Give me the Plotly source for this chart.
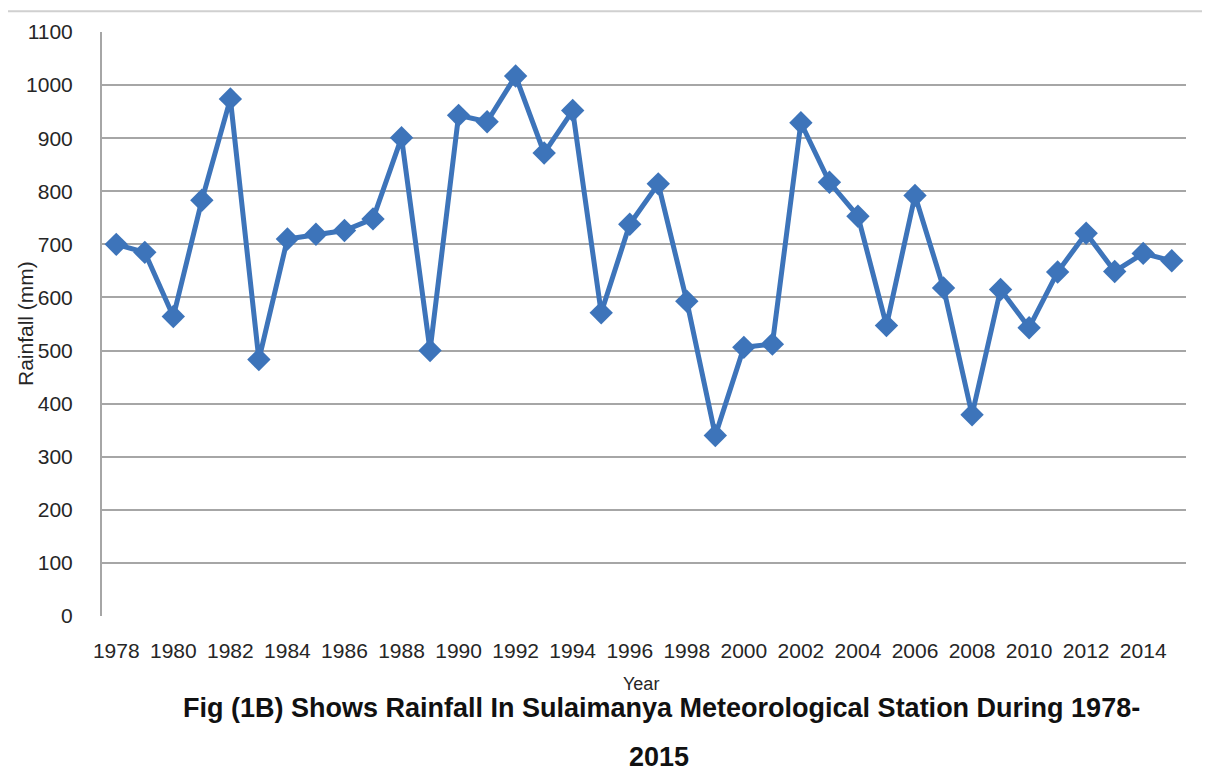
import plotly.graph_objects as go

years = list(range(1978, 2016))
rainfall = [700, 685, 564, 783, 974, 483, 710, 719, 726, 748, 901,
            500, 943, 931, 1017, 872, 952, 571, 738, 814, 593, 340,
            506, 512, 929, 817, 753, 547, 792, 618, 379, 615, 543,
            648, 721, 649, 683, 669]
x_ticks = list(range(1978, 2015, 2))
y_ticks = list(range(0, 1101, 100))

FONT = "Liberation Sans"
LINE_COLOR = "#3D74BA"
TEXT = "#262626"

fig = go.Figure()
fig.add_trace(go.Scatter(
    x=years, y=rainfall, mode="lines+markers",
    line=dict(color=LINE_COLOR, width=5),
    marker=dict(symbol="diamond", size=18, color=LINE_COLOR),
    showlegend=False,
))

fig.update_layout(
    width=1210, height=782,
    margin=dict(l=94, r=32, t=19, b=174),
    paper_bgcolor="white", plot_bgcolor="white",
    font=dict(family=FONT, color=TEXT, size=21),
    xaxis=dict(
        range=[1977.5, 2015.5], tickvals=x_ticks,
        ticktext=[str(v) for v in x_ticks],
        showgrid=False, zeroline=False, showline=False,
        ticks="", ticklabelstandoff=20,
        tickfont=dict(size=21, family=FONT, color=TEXT),
    ),
    yaxis=dict(
        range=[0, 1100], tickvals=y_ticks,
        showgrid=True, gridcolor="#A6A6A6", gridwidth=2,
        zeroline=False, showline=True, linecolor="#A6A6A6", linewidth=2,
        ticks="", ticklabelstandoff=23,
        tickfont=dict(size=21, family=FONT, color=TEXT),
    ),
    annotations=[
        dict(text="Rainfall (mm)", xref="paper", yref="paper",
             x=-0.071, y=0.5, textangle=-90, showarrow=False,
             font=dict(size=21, family=FONT, color=TEXT),
             xanchor="center", yanchor="middle"),
        dict(text="Year", xref="paper", yref="paper",
             x=0.497, y=-0.1165, showarrow=False,
             font=dict(size=18, family=FONT, color=TEXT),
             xanchor="center", yanchor="middle"),
        dict(text="<b>Fig (1B) Shows Rainfall In Sulaimanya Meteorological Station During 1978-</b>",
             xref="paper", yref="paper", x=0.516, y=-0.158, showarrow=False,
             font=dict(size=27, family=FONT, color="#111111"),
             xanchor="center", yanchor="middle"),
        dict(text="<b>2015</b>",
             xref="paper", yref="paper", x=0.514, y=-0.241, showarrow=False,
             font=dict(size=27, family=FONT, color="#111111"),
             xanchor="center", yanchor="middle"),
    ],
    shapes=[
        dict(type="rect", xref="paper", yref="paper",
             x0=-0.0904, x1=1.0157, y0=-0.32, y1=1.0357,
             line=dict(color="#D0D0D0", width=2), fillcolor="rgba(0,0,0,0)",
             layer="below"),
    ],
)

fig.write_html("out.html")
